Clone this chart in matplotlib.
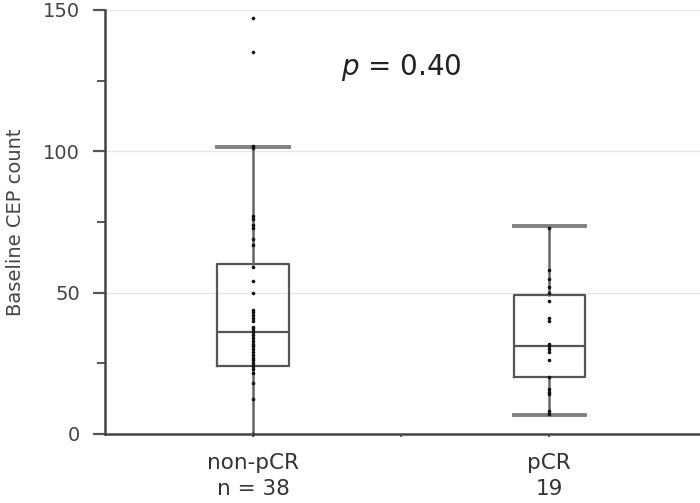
import matplotlib
matplotlib.use("Agg")
import matplotlib.pyplot as plt
from matplotlib.ticker import FixedLocator

categories = ["non-pCR\nn = 38", "pCR\n19"]
non_pcr = [147, 135, 102, 101, 77, 76, 74, 73, 69, 67, 59, 54, 50,
           44, 43, 42, 41, 40, 38, 37, 36, 35, 34, 33, 32, 31, 30, 29,
           28, 27, 26, 25, 24, 23, 21.5, 18, 12.5, 0]
pcr = [73, 58, 55, 52, 50, 47, 41, 40, 32, 31, 30, 29, 26, 20, 16, 15, 14, 8, 7]
# box statistics
whislo = [0, 6.7]
q1 = [24, 20]
med = [36, 31]
q3 = [60, 49.3]
whishi = [101.5, 73.5]
p_text = "$p$ = 0.40"
y_ticks = [0, 50, 100, 150]
y_minor = [25, 75, 125]

plt.rcParams['font.family'] = ['DejaVu Sans']
plt.rcParams['mathtext.fontset'] = 'dejavusans'

fig = plt.figure(figsize=(7.0, 5.03), dpi=100)
ax = fig.add_axes([0.15, 0.1372, 0.85, 0.843])

ax.set_xlim(0.5, 2.51)
ax.set_ylim(0, 150)

for v in [50, 100, 150]:
    ax.axhline(v, color='#e6e6e6', lw=1.0, zorder=0)

stats = []
for i in range(2):
    stats.append(dict(whislo=whislo[i], q1=q1[i], med=med[i], q3=q3[i],
                      whishi=whishi[i], fliers=[]))
pos = [1, 2]
parts = ax.bxp(stats, positions=pos, widths=0.24, capwidths=0.24, showfliers=False,
               boxprops=dict(color='#555555', lw=1.6),
               medianprops=dict(color='#555555', lw=1.6),
               whiskerprops=dict(color='#666666', lw=1.8),
               capprops=dict(color='#808080', lw=2.8),
               manage_ticks=False, zorder=2)
# lower cap of first group sits on the axis line and is not visible
parts['caps'][0].set_visible(False)

ax.plot([pos[0]] * len(non_pcr), non_pcr, 'o', color='#111111', ms=2.6,
        mec='none', zorder=3, clip_on=False)
ax.plot([pos[1]] * len(pcr), pcr, 'o', color='#111111', ms=2.6,
        mec='none', zorder=3, clip_on=False)

ax.text(1.5, 129.5, p_text, ha='center', va='center', fontsize=20,
        color='#222222')

for s in ['top', 'right']:
    ax.spines[s].set_visible(False)
for s in ['left', 'bottom']:
    ax.spines[s].set_linewidth(1.8)
    ax.spines[s].set_color('#444444')
    ax.spines[s].set_zorder(4)

ax.set_yticks(y_ticks)
ax.yaxis.set_minor_locator(FixedLocator(y_minor))
ax.tick_params(axis='y', which='major', length=9, width=1.6, color='#555555',
               labelsize=14, labelcolor='#444444', pad=9)
ax.tick_params(axis='y', which='minor', length=5.5, width=1.4, color='#555555')

ax.set_xticks(pos)
ax.set_xticklabels(categories)
ax.xaxis.set_minor_locator(FixedLocator([1.5]))
ax.tick_params(axis='x', which='major', length=2, width=1.2, color='#444444',
               labelsize=15.5, labelcolor='#333333', pad=12)
ax.tick_params(axis='x', which='minor', length=2, width=1.2, color='#444444')
for t in ax.get_xticklabels():
    t.set_linespacing(1.35)

ax.set_ylabel("Baseline CEP count", fontsize=14, color='#444444', labelpad=13)

fig.savefig("out.png", dpi=100)
